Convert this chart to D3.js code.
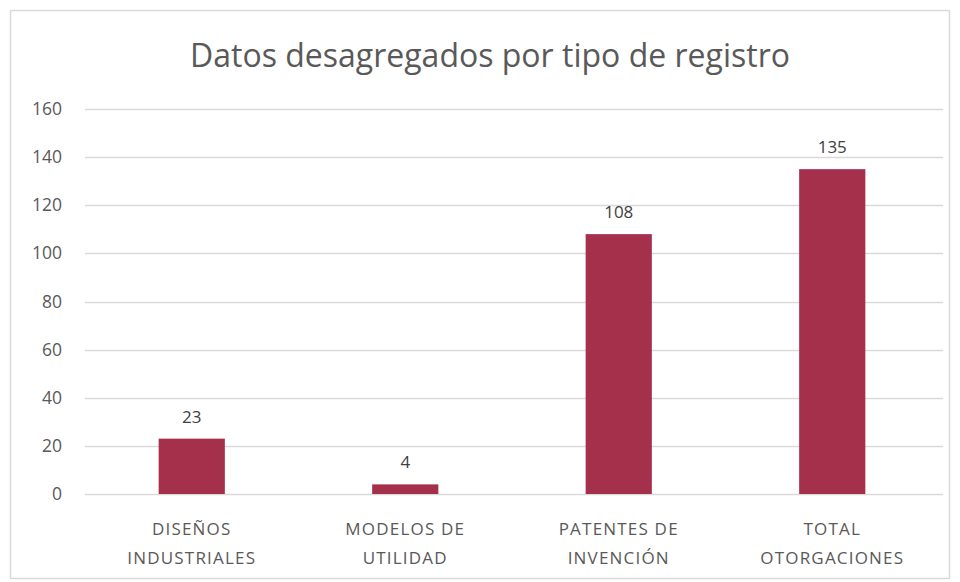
<!DOCTYPE html>
<html>
<head>
<meta charset="utf-8">
<script src="https://cdn.jsdelivr.net/npm/d3@7"></script>
<style>
  body { margin: 0; background: #fff; }
  svg text { font-family: "Open Sans", "Noto Sans", sans-serif; }
</style>
</head>
<body>
<div id="chart"></div>
<script>
// chart data
var categories = [["DISEÑOS", "INDUSTRIALES"], ["MODELOS DE", "UTILIDAD"], ["PATENTES DE", "INVENCIÓN"], ["TOTAL", "OTORGACIONES"]];
var values = [23, 4, 108, 135];
var yTicks = [0, 20, 40, 60, 80, 100, 120, 140, 160];

var width = 960, height = 582;
var margin = { top: 109, right: 17, bottom: 88, left: 85 };

var svg = d3.select("#chart")
	.append("svg")
	.attr("width", width)
	.attr("height", height);

// outer frame
svg.append("rect")
	.attr("x", 10.5).attr("y", 10.5)
	.attr("width", 939).attr("height", 568)
	.attr("fill", "#fff")
	.attr("stroke", "#d9d9d9")
	.attr("stroke-width", 1.5);

svg.append("text")
	.attr("x", 490)
	.attr("y", 67)
	.attr("text-anchor", "middle")
	.attr("font-size", "32px")
	.attr("fill", "#595959")
	.text("Datos desagregados por tipo de registro");

var plotW = width - margin.left - margin.right,
	plotH = height - margin.top - margin.bottom;

var g = svg.append("g")
	.attr("transform", "translate(" + margin.left + "," + margin.top + ")");

// bands stop a bit short of the gridline end, like the original
var x = d3.scaleBand()
	.domain(d3.range(values.length))
	.range([0, plotW - 4])
	.paddingInner(0.69)
	.paddingOuter(0.345);

var y = d3.scaleLinear()
	.domain([0, 160])
	.range([plotH, 0]);

// gridlines
g.selectAll(".grid")
	.data(yTicks)
	.enter()
	.append("line")
	.attr("x1", 0)
	.attr("x2", plotW)
	.attr("y1", function (d) { return Math.round(y(d)) + 0.5; })
	.attr("y2", function (d) { return Math.round(y(d)) + 0.5; })
	.attr("stroke", "#d9d9d9")
	.attr("stroke-width", 1.5);

// y axis labels
var yAxis = g.append("g")
	.call(d3.axisLeft(y).tickValues(yTicks).tickSize(0).tickPadding(23));
yAxis.select(".domain").remove();
yAxis.selectAll("text")
	.attr("font-size", "17.5px")
	.attr("font-family", "Open Sans, sans-serif")
	.attr("fill", "#595959");

// bars
g.selectAll(".bar")
	.data(values)
	.enter()
	.append("rect")
	.attr("x", function (d, i) { return x(i); })
	.attr("y", function (d) { return y(d); })
	.attr("width", x.bandwidth())
	.attr("height", function (d) { return plotH - y(d); })
	.attr("fill", "#a5304b");

// value labels
g.selectAll(".val")
	.data(values)
	.enter()
	.append("text")
	.attr("x", function (d, i) { return x(i) + x.bandwidth() / 2; })
	.attr("y", function (d) { return y(d) - 16; })
	.attr("text-anchor", "middle")
	.attr("font-size", "17px")
	.attr("fill", "#404040")
	.text(function (d) { return d; });

// category labels
var cat = g.selectAll(".cat")
	.data(categories)
	.enter()
	.append("text")
	.attr("text-anchor", "middle")
	.attr("font-size", "17px")
	.attr("letter-spacing", "1.2px")
	.attr("fill", "#595959")
	.attr("transform", function (d, i) { return "translate(" + (x(i) + x.bandwidth() / 2) + "," + (plotH + 41) + ")"; });
cat.selectAll("tspan")
	.data(function (d) { return d; })
	.enter()
	.append("tspan")
	.attr("x", 0)
	.attr("dy", function (d, i) { return i === 0 ? 0 : 29; })
	.text(function (d) { return d; });
</script>
</body>
</html>
